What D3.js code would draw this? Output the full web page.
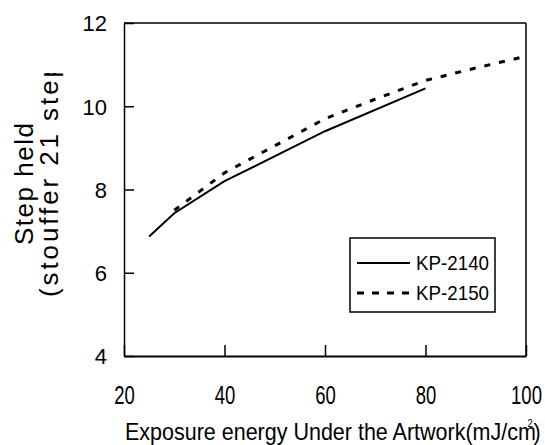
<!DOCTYPE html>
<html>
<head>
<meta charset="utf-8">
<script src="https://cdn.jsdelivr.net/npm/d3@7/dist/d3.min.js"></script>
<style>
  body { margin: 0; background: #fff; }
  svg { display: block; font-family: "Liberation Sans", Arial, sans-serif; }
</style>
</head>
<body>
<div id="chart"></div>
<script>
// data
var energy2140 = [25, 30, 40, 60, 80];
var step2140 = [6.87, 7.43, 8.2, 9.4, 10.43];
var energy2150 = [30, 40, 50, 60, 70, 80, 90, 100];
var step2150 = [7.5, 8.4, 9.05, 9.7, 10.17, 10.62, 10.92, 11.2];
var seriesNames = ["KP-2140", "KP-2150"];
var xTicks = [20, 40, 60, 80, 100];
var yTicks = [4, 6, 8, 10, 12];

var width = 545, height = 445;
var plotL = 124, plotR = 526, plotT = 23, plotB = 356;

var svg = d3.select("#chart").append("svg")
    .attr("width", width)
    .attr("height", height);

var x = d3.scaleLinear().domain([20, 100]).range([plotL, plotR]);
var y = d3.scaleLinear().domain([4, 12]).range([plotB, plotT]);

// frame top and right
svg.append("line").attr("x1", plotL).attr("x2", plotR).attr("y1", plotT).attr("y2", plotT)
    .attr("stroke", "#000").attr("stroke-width", 1.5);
svg.append("line").attr("x1", plotR).attr("x2", plotR).attr("y1", plotT).attr("y2", plotB)
    .attr("stroke", "#000").attr("stroke-width", 1.5);

// x axis
var gx = svg.append("g")
    .attr("transform", "translate(0," + plotB + ")")
    .call(d3.axisBottom(x).tickValues(xTicks).tickSizeInner(-11).tickSizeOuter(0).tickPadding(0));
gx.select(".domain").attr("stroke-width", 2);
gx.selectAll(".tick line").attr("stroke-width", 1.5);
gx.selectAll(".tick text")
    .attr("y", 48)
    .attr("dy", null)
    .attr("font-size", 25)
    .attr("fill", "#000")
    .attr("textLength", function(d) { return String(d).length * 10.3; })
    .attr("lengthAdjust", "spacingAndGlyphs");

// y axis
var gy = svg.append("g")
    .attr("transform", "translate(" + plotL + ",0)")
    .call(d3.axisLeft(y).tickValues(yTicks).tickSizeInner(-10).tickSizeOuter(0).tickPadding(17));
gy.select(".domain").attr("stroke-width", 1.5);
gy.selectAll(".tick line").attr("stroke-width", 1.5);
gy.selectAll(".tick text")
    .attr("font-size", 22)
    .attr("fill", "#000")
    .attr("dy", "0.36em");

// lines
var line = d3.line()
    .x(function(d) { return x(d[0]); })
    .y(function(d) { return y(d[1]); });

svg.append("path")
    .datum(d3.zip(energy2140, step2140))
    .attr("d", line)
    .attr("fill", "none")
    .attr("stroke", "#000")
    .attr("stroke-width", 2);

svg.append("path")
    .datum(d3.zip(energy2150, step2150))
    .attr("d", line)
    .attr("fill", "none")
    .attr("stroke", "#000")
    .attr("stroke-width", 3)
    .attr("stroke-dasharray", "6,9");

// legend
var lg = svg.append("g");
lg.append("rect")
    .attr("x", 350).attr("y", 238).attr("width", 145).attr("height", 74)
    .attr("fill", "#fff").attr("stroke", "#000").attr("stroke-width", 1.5);
var styles = [{w: 2, dash: null}, {w: 3, dash: "7,8"}];
seriesNames.forEach(function(name, i) {
    var yy = 263 + i * 30;
    lg.append("line")
        .attr("x1", 357).attr("x2", 410).attr("y1", yy).attr("y2", yy)
        .attr("stroke", "#000").attr("stroke-width", styles[i].w)
        .attr("stroke-dasharray", styles[i].dash);
    lg.append("text")
        .attr("x", 416).attr("y", yy + 6.5)
        .attr("font-size", 21)
        .attr("textLength", 73)
        .attr("lengthAdjust", "spacingAndGlyphs")
        .text(name);
});

// y title, second line clipped at the top like the original
svg.append("clipPath").attr("id", "ytclip")
    .append("rect").attr("x", 0).attr("y", 73).attr("width", 100).attr("height", 372);

var yt = svg.append("g").attr("clip-path", "url(#ytclip)");
yt.append("text")
    .attr("transform", "translate(33,245)rotate(-90)")
    .attr("font-size", 26)
    .attr("textLength", 122)
    .attr("lengthAdjust", "spacing")
    .text("Step held");
yt.append("text")
    .attr("transform", "translate(58,297)rotate(-90)")
    .attr("font-size", 26)
    .attr("textLength", 234)
    .attr("lengthAdjust", "spacing")
    .text("(stouffer 21 step");

// x title, squeezed to the width it has in the original
var xt = svg.append("g");
var xtext = xt.append("text").attr("font-size", 23);
xtext.append("tspan").text("Exposure energy Under the Artwork(mJ/cm");
xtext.append("tspan").attr("font-size", 10).attr("dx", -9).attr("dy", -13).text("2");
xtext.append("tspan").attr("dx", 1).attr("dy", 13).text(")");
var xw = xtext.node().getBBox().width;
xt.attr("transform", "translate(125,440)scale(" + ((541 - 125) / xw) + ",1)");
</script>
</body>
</html>
